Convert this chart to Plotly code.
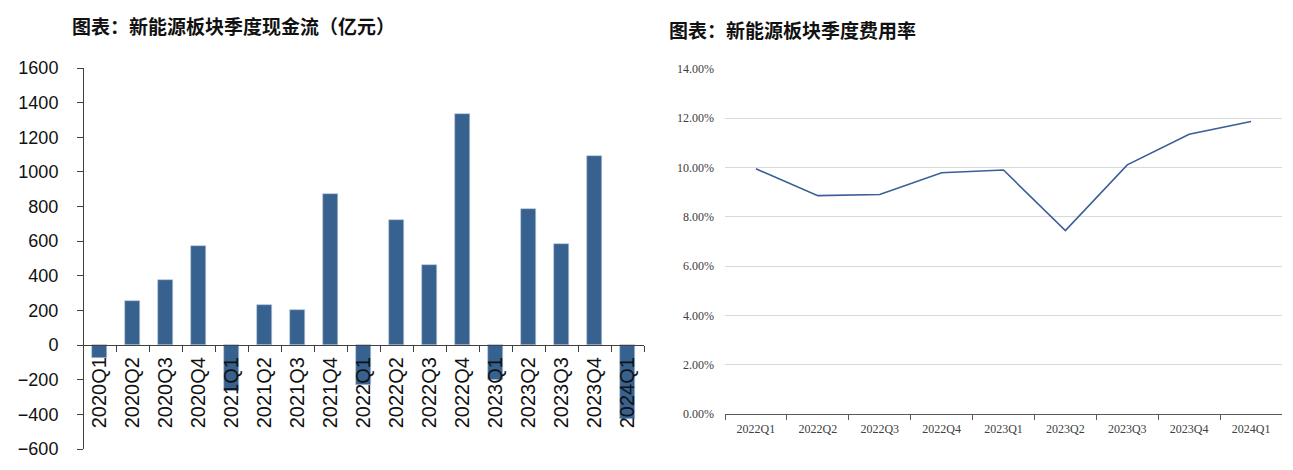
import plotly.graph_objects as go

W, H = 1293, 470

# Left chart data: quarterly cash flow (亿元)
cf_quarters = ["2020Q1", "2020Q2", "2020Q3", "2020Q4",
               "2021Q1", "2021Q2", "2021Q3", "2021Q4",
               "2022Q1", "2022Q2", "2022Q3", "2022Q4",
               "2023Q1", "2023Q2", "2023Q3", "2023Q4",
               "2024Q1"]
cf_values = [-75, 252, 376, 575, -266, 232, 200, 875, -233, 722, 465, 1336,
             -201, 784, 584, 1091, -427]
cf_ticks = [-600, -400, -200, 0, 200, 400, 600, 800, 1000, 1200, 1400, 1600]

# Right chart data: quarterly expense ratio (%)
er_quarters = ["2022Q1", "2022Q2", "2022Q3", "2022Q4", "2023Q1",
               "2023Q2", "2023Q3", "2023Q4", "2024Q1"]
er_values = [9.95, 8.86, 8.91, 9.79, 9.90, 7.44, 10.11, 11.35, 11.87]
er_ticks = [0, 2, 4, 6, 8, 10, 12, 14]
er_tick_labels = ["0.00%", "2.00%", "4.00%", "6.00%", "8.00%", "10.00%", "12.00%", "14.00%"]

def px_x(p):
    return p / W

def px_y(p):
    return 1 - p / H

BAR = "#37618f"
LINE = "#3a5f96"

fig = go.Figure()
fig.add_trace(go.Bar(x=cf_quarters, y=cf_values, marker=dict(color=BAR, line=dict(color="#b9c8dc", width=0.6)),
                     width=0.46, xaxis="x", yaxis="y", showlegend=False))
fig.add_trace(go.Scatter(x=er_quarters, y=er_values, mode="lines", line=dict(color=LINE, width=1.6),
                         xaxis="x2", yaxis="y2", showlegend=False))

y_top, y_bot = 68, 449
ymin, ymax = -600, 1600
zero_px = y_bot - (0 - ymin) / (ymax - ymin) * (y_bot - y_top)

fig.update_layout(
    width=W, height=H,
    margin=dict(l=0, r=0, t=0, b=0, autoexpand=False),
    paper_bgcolor="white", plot_bgcolor="white",
    bargap=0,
    xaxis=dict(domain=[px_x(83), px_x(644)], anchor="free", position=px_y(zero_px),
               type="category", range=[-0.5, len(cf_quarters) - 0.5],
               showline=True, linecolor="#404040", linewidth=1,
               ticks="outside", tickson="boundaries", ticklen=6, tickcolor="#404040",
               tickangle=-90, tickfont=dict(family="Liberation Sans, Arial", size=20, color="#111"),
               showgrid=False, zeroline=False, layer="above traces", ticklabelstandoff=3,
               automargin=False),
    yaxis=dict(domain=[px_y(y_bot), px_y(y_top)], anchor="free", position=px_x(83),
               range=[ymin, ymax], tickvals=cf_ticks, showline=True, linecolor="#404040", linewidth=1,
               ticks="outside", ticklen=6, tickcolor="#404040",
               tickfont=dict(family="Liberation Sans, Arial", size=18, color="#111"),
               showgrid=False, zeroline=False, ticklabelstandoff=15, automargin=False),
    xaxis2=dict(domain=[px_x(725), px_x(1282)], anchor="y2", type="category",
                range=[-0.5, len(er_quarters) - 0.5],
                showline=True, linecolor="#595959", linewidth=1,
                ticks="outside", tickson="boundaries", ticklen=5, tickcolor="#595959",
                tickfont=dict(family="Liberation Serif, Times New Roman", size=12, color="#404040"),
                showgrid=False, zeroline=False, ticklabelstandoff=4, automargin=False),
    yaxis2=dict(domain=[px_y(414), px_y(69)], anchor="x2", range=[0, 14], tickvals=er_ticks,
                ticktext=er_tick_labels, showline=False, ticks="",
                tickfont=dict(family="Liberation Serif, Times New Roman", size=12, color="#404040"),
                showgrid=True, gridcolor="#d9d9d9", gridwidth=1.2, zeroline=False, ticklabelstandoff=10,
                automargin=False),
    annotations=[
        dict(text="<b>图表：新能源板块季度现金流（亿元）</b>", x=px_x(70), y=px_y(25), xref="paper", yref="paper",
             xanchor="left", yanchor="middle", showarrow=False,
             font=dict(family="Noto Sans CJK SC", size=19, color="#111")),
        dict(text="<b>图表：新能源板块季度费用率</b>", x=px_x(667), y=px_y(30), xref="paper", yref="paper",
             xanchor="left", yanchor="middle", showarrow=False,
             font=dict(family="Noto Sans CJK SC", size=19, color="#111")),
    ],
)

fig.write_html("out.html")
